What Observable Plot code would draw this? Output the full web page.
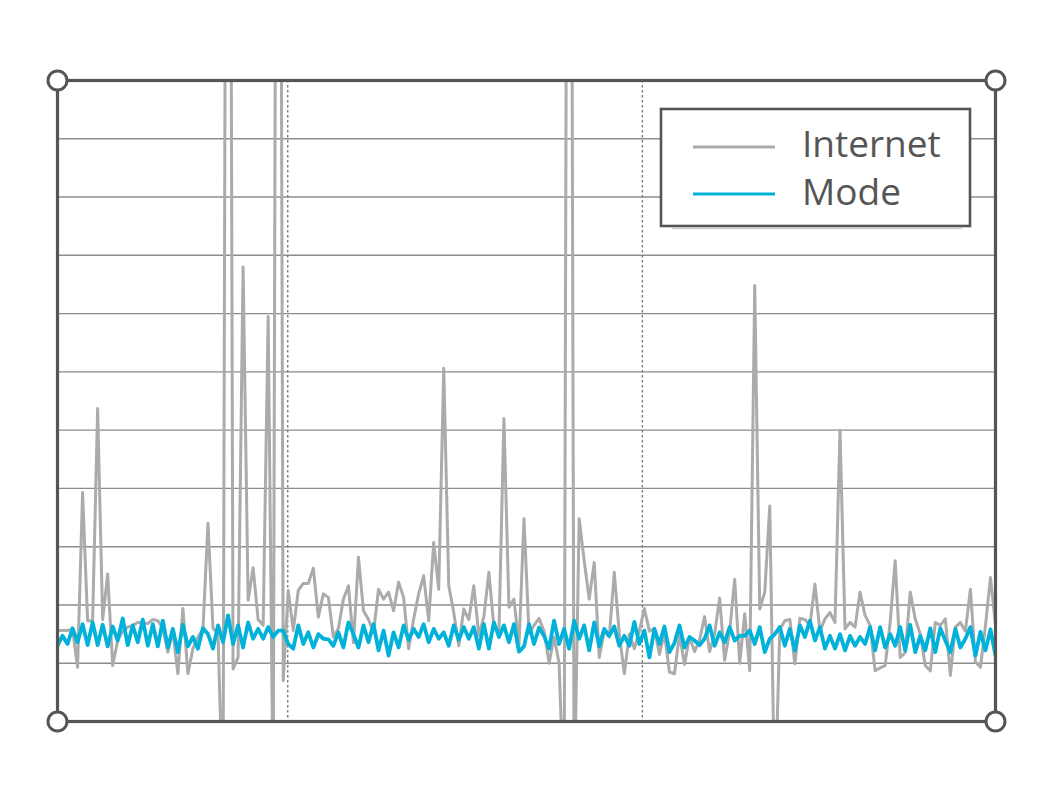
<!DOCTYPE html>
<html>
<head>
<meta charset="utf-8">
<script src="https://cdn.jsdelivr.net/npm/d3@7"></script>
<script src="https://cdn.jsdelivr.net/npm/@observablehq/plot@0.6"></script>
<style>
  html, body { margin: 0; padding: 0; background: #fff; }
  #chart { width: 1050px; height: 800px; }
</style>
</head>
<body>
<div id="chart"></div>
<script>
// ---- data ----
const seriesNames = ["Internet", "Mode"];

const internet = [
  15.6, 15.6, 15.6, 15.9, 9.3, 39.3, 17.3, 17.3, 53.7, 17.5,
  25.3, 9.6, 13.9, 15.5, 16.2, 16.5, 17.0, 17.0, 16.8, 17.5,
  17.3, 16.0, 11.9, 15.5, 8.2, 19.4, 8.2, 12.5, 14.5, 15.9,
  34.0, 16.0, 15.0, -15, 300, 9.0, 11.0, 78.0, 20.8, 26.4,
  17.5, 16.5, 69.5, -15, 300, 7.0, 22.5, 15.6, 22.5, 23.7,
  23.7, 26.3, 17.9, 21.9, 21.3, 14.5, 16.0, 21.0, 23.3, 13.5,
  28.2, 19.0, 17.5, 15.3, 22.7, 21.0, 22.2, 19.0, 23.9, 21.3,
  12.5, 17.6, 21.9, 25.0, 17.3, 30.7, 22.7, 60.6, 23.3, 18.7,
  13.0, 19.3, 17.5, 23.3, 14.7, 18.0, 25.6, 16.3, 15.0, 52.0,
  19.6, 21.0, 13.0, 34.8, 15.1, 16.5, 17.7, 15.5, 10.0, 14.5,
  10.0, -15, 300, -15, 34.8, 27.6, 21.0, 27.3, 11.0, 15.5,
  14.5, 25.6, 15.0, 8.2, 15.0, 12.5, 15.5, 19.4, 15.5, 16.0,
  11.5, 15.1, 8.5, 8.2, 15.0, 9.8, 14.5, 12.0, 14.0, 18.0,
  12.0, 15.0, 21.2, 10.5, 15.5, 24.4, 10.0, 18.5, 8.7, 74.8,
  19.3, 22.2, 37.0, -15, 15.8, 17.3, 17.5, 9.9, 17.7, 17.5,
  16.5, 23.6, 15.5, 17.6, 18.7, 17.0, 50.0, 15.9, 17.0, 16.2,
  22.2, 18.2, 16.5, 8.7, 9.2, 9.6, 17.0, 27.6, 11.0, 11.8,
  22.2, 17.6, 15.0, 9.6, 8.7, 17.0, 16.5, 17.6, 7.9, 16.2,
  17.0, 15.5, 22.7, 10.2, 9.3, 16.5, 24.7, 16.5
];

const mode = [
  13.0, 14.7, 13.3, 16.0, 13.6, 16.7, 13.1, 17.0, 13.1, 16.6,
  12.9, 16.3, 13.9, 17.7, 13.1, 16.5, 13.6, 17.5, 13.0, 16.7,
  12.9, 17.3, 12.7, 15.9, 11.9, 16.6, 12.9, 14.5, 12.5, 16.0,
  15.0, 12.5, 16.5, 13.6, 18.2, 13.3, 16.5, 12.7, 17.0, 14.2,
  15.9, 14.2, 16.2, 14.5, 15.6, 15.6, 13.3, 12.5, 16.5, 13.3,
  15.3, 12.7, 15.0, 14.2, 14.1, 13.0, 15.3, 12.7, 17.0, 15.0,
  12.7, 16.5, 13.6, 16.7, 12.2, 15.6, 11.3, 15.3, 12.7, 16.5,
  14.0, 15.9, 14.5, 16.7, 13.6, 15.9, 14.2, 15.3, 13.0, 16.5,
  14.0, 16.2, 14.2, 16.2, 12.5, 16.7, 12.5, 17.0, 14.5, 16.5,
  13.6, 16.7, 12.0, 12.9, 16.7, 13.3, 16.1, 14.7, 12.5, 17.3,
  13.3, 15.9, 12.5, 17.3, 14.2, 16.5, 12.2, 17.0, 12.9, 15.9,
  14.7, 16.3, 13.0, 14.7, 13.0, 17.1, 13.3, 15.6, 11.0, 15.9,
  13.3, 16.3, 11.9, 13.5, 16.5, 12.7, 14.5, 13.9, 13.1, 14.2,
  16.5, 13.0, 15.3, 13.6, 16.2, 13.9, 14.7, 14.7, 15.6, 13.3,
  16.2, 11.9, 14.2, 15.0, 16.2, 13.0, 15.9, 12.2, 16.5, 14.5,
  17.3, 13.9, 16.2, 12.5, 14.7, 12.5, 15.0, 12.2, 14.7, 13.0,
  14.5, 13.3, 16.2, 12.2, 16.2, 12.7, 15.0, 13.0, 16.2, 12.2,
  16.6, 11.9, 14.7, 12.2, 16.0, 11.9, 16.0, 13.9, 11.9, 15.9,
  12.7, 14.2, 16.2, 11.3, 15.4, 12.2, 15.8, 11.3
];

const gridTicks = [10, 20, 30, 40, 50, 60, 70, 80, 90, 100];
const dividers = [45.9, 116.6];   // positions on the index axis
const yMax = 110;

// ---- style ----
const grayC = "#ababab";
const blueC = "#00b2d9";
const inkC = "#555555";
const lastIdx = internet.length - 1;
const corners = [[0, 0], [lastIdx, 0], [0, yMax], [lastIdx, yMax]];

const chart = Plot.plot({
  width: 1050,
  height: 800,
  marginTop: 80,
  marginRight: 55,
  marginBottom: 79,
  marginLeft: 57,
  x: { domain: [0, lastIdx], axis: null },
  y: { domain: [0, yMax], axis: null },
  style: { background: "#fff", overflow: "visible" },
  marks: [
    Plot.ruleY(gridTicks, { stroke: "#8c8c8c", strokeWidth: 1.4 }),
    Plot.ruleX(dividers, { stroke: "#7a7a7a", strokeWidth: 1.4, strokeDasharray: "2.5,2.5" }),
    Plot.line(internet, { x: (d, i) => i, y: d => d, stroke: grayC, strokeWidth: 3, clip: true }),
    Plot.line(mode, { x: (d, i) => i, y: d => d, stroke: blueC, strokeWidth: 3.8, clip: true }),
    Plot.frame({ stroke: inkC, strokeWidth: 3.2 }),
    Plot.dot(corners, { r: 9.5, fill: "#fff", stroke: inkC, strokeWidth: 3 })
  ]
});

document.getElementById("chart").appendChild(chart);

// ---- legend inside the plot area ----
const svg = d3.select(chart);
const lg = svg.append("g").attr("class", "legend").attr("text-anchor", "start");
lg.append("line")
  .attr("x1", 672).attr("x2", 962).attr("y1", 228.5).attr("y2", 228.5)
  .attr("stroke", "#cfcfcf").attr("stroke-width", 1.5);
lg.append("rect")
  .attr("x", 661).attr("y", 109).attr("width", 309).attr("height", 117)
  .attr("fill", "#fff").attr("stroke", inkC).attr("stroke-width", 2.6);
const colors = [grayC, blueC];
const rowY = [147, 194];
const textY = [157, 205];
seriesNames.forEach((name, k) => {
  lg.append("line")
    .attr("x1", 693).attr("x2", 775).attr("y1", rowY[k]).attr("y2", rowY[k])
    .attr("stroke", colors[k]).attr("stroke-width", 3.2);
  lg.append("text")
    .attr("x", 802).attr("y", textY[k])
    .attr("text-anchor", "start")
    .attr("fill", inkC)
    .style("font-family", "'Open Sans', 'Noto Sans', sans-serif")
    .style("font-size", "37px")
    .text(name);
});
</script>
</body>
</html>
